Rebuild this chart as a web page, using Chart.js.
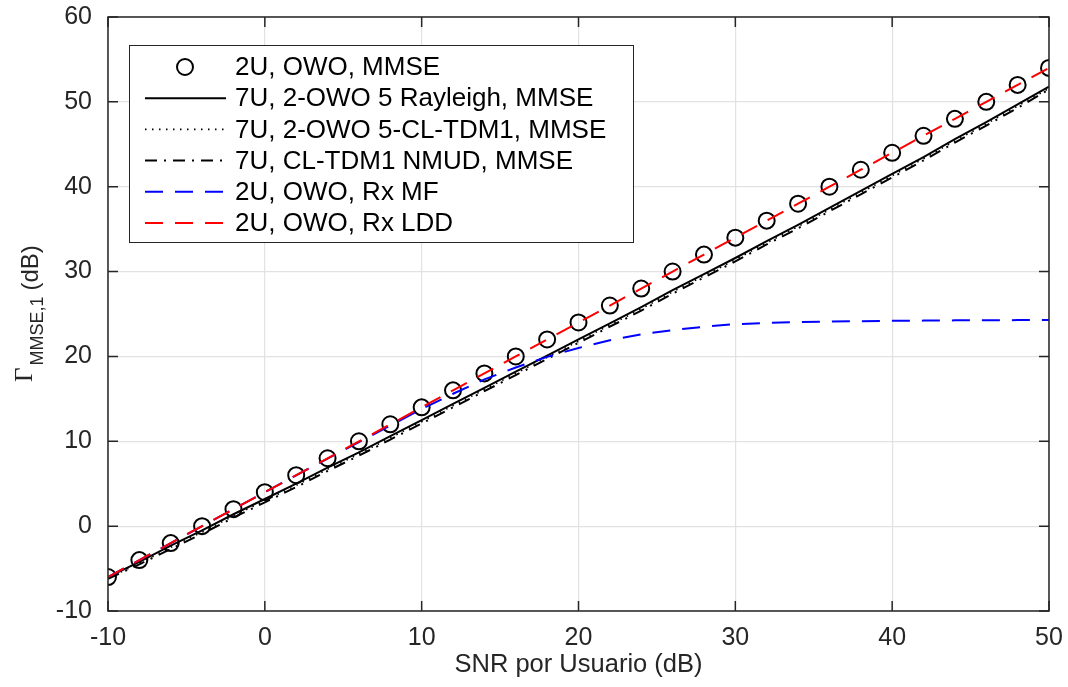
<!DOCTYPE html>
<html>
<head>
<meta charset="utf-8">
<script src="https://cdn.jsdelivr.net/npm/chart.js@4.4.1/dist/chart.umd.min.js"></script>
<style>
  html, body { margin: 0; padding: 0; background: #fff; }
  #wrap { width: 1068px; height: 687px; position: relative; }
</style>
</head>
<body>
<div id="wrap"><canvas id="gainChart"></canvas></div>
<script>
// SNR por usuario (dB)
var snr = [-10, -8, -6, -4, -2, 0, 2, 4, 6, 8, 10, 12, 14, 16, 18, 20, 22, 24, 26, 28, 30, 32, 34, 36, 38, 40, 42, 44, 46, 48, 50];

// 2U, OWO, MMSE (marcadores)
var owoMmse = [-6, -4, -2, 0, 2, 4, 6, 8, 10, 12, 14, 16, 18, 20, 22, 24, 26, 28, 30, 32, 34, 36, 38, 40, 42, 44, 46, 48, 50, 52, 54];
// 7U, 2-OWO 5 Rayleigh, MMSE
var rayleighMmse = [-6.0, -4.2, -2.3, -0.5, 1.4, 3.2, 5.0, 6.9, 8.7, 10.6, 12.5, 14.4, 16.3, 18.2, 20.1, 22.0, 23.9, 25.8, 27.8, 29.7, 31.6, 33.6, 35.5, 37.5, 39.5, 41.5, 43.5, 45.6, 47.6, 49.7, 51.8];
// 7U, 2-OWO 5-CL-TDM1, MMSE
var tdm1Mmse = [-6.1, -4.4, -2.5, -0.7, 1.2, 3.0, 4.8, 6.7, 8.5, 10.4, 12.3, 14.2, 16.1, 18.0, 19.9, 21.8, 23.7, 25.6, 27.6, 29.5, 31.4, 33.4, 35.3, 37.3, 39.3, 41.3, 43.3, 45.4, 47.4, 49.5, 51.6];
// 7U, CL-TDM1 NMUD, MMSE
var nmudMmse = [-6.2, -4.5, -2.7, -0.9, 1.0, 2.8, 4.6, 6.5, 8.3, 10.2, 12.1, 14.0, 15.9, 17.8, 19.7, 21.6, 23.5, 25.4, 27.4, 29.3, 31.2, 33.2, 35.1, 37.1, 39.1, 41.1, 43.1, 45.2, 47.2, 49.3, 51.45];
// 2U, OWO, Rx MF
var owoMf = [-6, -4, -2, 0, 2, 4, 5.99, 7.97, 9.9, 11.85, 13.8, 15.6, 17.3, 18.7, 19.95, 21.0, 21.9, 22.6, 23.1, 23.5, 23.8, 23.95, 24.05, 24.1, 24.15, 24.2, 24.22, 24.25, 24.27, 24.28, 24.3];
// 2U, OWO, Rx LDD
var owoLdd = [-6, -4, -2, 0, 2, 4, 6, 8, 10, 12, 14, 16, 18, 20, 22, 24, 26, 28, 30, 32, 34, 36, 38, 40, 42, 44, 46, 48, 50, 52, 54];

var seriesNames = [
  '2U, OWO, MMSE',
  '7U, 2-OWO 5 Rayleigh, MMSE',
  '7U, 2-OWO 5-CL-TDM1, MMSE',
  '7U, CL-TDM1 NMUD, MMSE',
  '2U, OWO, Rx MF',
  '2U, OWO, Rx LDD'
];

var xTicks = [-10, 0, 10, 20, 30, 40, 50];
var yTicks = [-10, 0, 10, 20, 30, 40, 50, 60];

var SANS = '"Liberation Sans", Arial, Helvetica, sans-serif';
var SERIF = '"Liberation Serif", "Times New Roman", serif';
var AXIS = '#262626';

function pts(ys) {
  return snr.map(function(x, i) { return { x: x, y: ys[i] }; });
}

// box, inner ticks, axis titles and legend, MATLAB style
var matlabLook = {
  id: 'matlabLook',
  afterDatasetsDraw: function(chart) {
    var ctx = chart.ctx, a = chart.chartArea;
    var xs = chart.scales.x, ys = chart.scales.y;
    ctx.save();
    ctx.strokeStyle = AXIS;
    ctx.lineWidth = 1.5;
    ctx.beginPath();
    xTicks.forEach(function(v) {
      var px = xs.getPixelForValue(v);
      ctx.moveTo(px, a.bottom); ctx.lineTo(px, a.bottom - 10);
      ctx.moveTo(px, a.top); ctx.lineTo(px, a.top + 10);
    });
    yTicks.forEach(function(v) {
      var py = ys.getPixelForValue(v);
      ctx.moveTo(a.left, py); ctx.lineTo(a.left + 10, py);
      ctx.moveTo(a.right, py); ctx.lineTo(a.right - 10, py);
    });
    ctx.stroke();
    ctx.strokeRect(a.left, a.top, a.right - a.left, a.bottom - a.top);

    // x title
    ctx.fillStyle = AXIS;
    ctx.font = '25.5px ' + SANS;
    ctx.textAlign = 'center';
    ctx.textBaseline = 'middle';
    ctx.fillText('SNR por Usuario (dB)', (a.left + a.right) / 2, 665);

    // y title: Γ_{MMSE,1} (dB), rotated
    ctx.save();
    ctx.translate(32, 382);
    ctx.rotate(-Math.PI / 2);
    ctx.textAlign = 'left';
    ctx.textBaseline = 'alphabetic';
    ctx.font = '25px ' + SERIF;
    ctx.fillText('\u0393', 0, 0);
    var x1 = ctx.measureText('\u0393').width + 2;
    ctx.font = '18px ' + SANS;
    ctx.fillText('MMSE,1', x1, 11);
    var x2 = x1 + ctx.measureText('MMSE,1').width + 6;
    ctx.font = '24px ' + SANS;
    ctx.fillText('(dB)', x2, 6);
    ctx.restore();

    // legend
    var lx = 129, ly = 45, lw = 504, lh = 197;
    ctx.fillStyle = '#fff';
    ctx.fillRect(lx, ly, lw, lh);
    ctx.lineWidth = 1;
    ctx.strokeStyle = AXIS;
    ctx.strokeRect(lx + 0.5, ly + 0.5, lw, lh);
    chart.data.datasets.forEach(function(ds, i) {
      var ry = 67 + i * 31.2;
      ctx.save();
      if (ds.showLine === false) {
        ctx.beginPath();
        ctx.lineWidth = ds.pointBorderWidth;
        ctx.strokeStyle = ds.pointBorderColor;
        ctx.arc(185, ry, ds.pointRadius, 0, Math.PI * 2);
        ctx.stroke();
      } else {
        ctx.beginPath();
        ctx.lineWidth = ds.borderWidth;
        ctx.strokeStyle = ds.borderColor;
        ctx.setLineDash(ds.borderDash || []);
        ctx.moveTo(145, ry);
        ctx.lineTo(226, ry);
        ctx.stroke();
      }
      ctx.restore();
      ctx.fillStyle = '#000';
      ctx.font = '26px ' + SANS;
      ctx.textAlign = 'left';
      ctx.textBaseline = 'middle';
      ctx.fillText(seriesNames[i], 235, ry + 1);
    });
    ctx.restore();
  }
};

var ctx = document.getElementById('gainChart').getContext('2d');
var gainChart = new Chart(ctx, {
  type: 'line',
  data: {
    datasets: [{
      label: seriesNames[0],
      data: pts(owoMmse),
      showLine: false,
      pointStyle: 'circle',
      pointRadius: 8,
      pointBorderWidth: 2,
      pointBorderColor: '#000',
      pointBackgroundColor: 'rgba(0,0,0,0)',
      order: 5
    }, {
      label: seriesNames[1],
      data: pts(rayleighMmse),
      borderColor: '#000',
      borderWidth: 2,
      pointRadius: 0,
      order: 4
    }, {
      label: seriesNames[2],
      data: pts(tdm1Mmse),
      borderColor: '#000',
      borderWidth: 1.6,
      borderDash: [1.5, 5.5],
      pointRadius: 0,
      order: 3
    }, {
      label: seriesNames[3],
      data: pts(nmudMmse),
      borderColor: '#000',
      borderWidth: 2,
      borderDash: [12, 7, 2, 7],
      pointRadius: 0,
      order: 2
    }, {
      label: seriesNames[4],
      data: pts(owoMf),
      borderColor: '#0000ff',
      borderWidth: 2,
      borderDash: [18, 12],
      pointRadius: 0,
      order: 1
    }, {
      label: seriesNames[5],
      data: pts(owoLdd),
      borderColor: '#ff0000',
      borderWidth: 2,
      borderDash: [18, 12],
      pointRadius: 0,
      order: 0
    }]
  },
  options: {
    responsive: true,
    maintainAspectRatio: false,
    animation: false,
    events: [],
    layout: { padding: { top: 17, right: 19, left: 0, bottom: 0 } },
    scales: {
      x: {
        type: 'linear',
        min: -10,
        max: 50,
        afterBuildTicks: function(s) { s.ticks = xTicks.map(function(v) { return { value: v }; }); },
        afterFit: function(s) { s.height = 76; s.paddingLeft = 0; s.paddingRight = 0; },
        grid: { color: '#e2e2e2', lineWidth: 1.2, drawTicks: false },
        border: { display: false },
        ticks: { font: { family: SANS, size: 25 }, color: AXIS, padding: 12, maxRotation: 0 }
      },
      y: {
        type: 'linear',
        min: -10,
        max: 60,
        afterBuildTicks: function(s) { s.ticks = yTicks.map(function(v) { return { value: v }; }); },
        afterFit: function(s) { s.width = 108; s.paddingTop = 0; s.paddingBottom = 0; },
        grid: { color: '#e2e2e2', lineWidth: 1.2, drawTicks: false },
        border: { display: false },
        ticks: { font: { family: SANS, size: 25 }, color: AXIS, padding: 16 }
      }
    },
    plugins: {
      legend: { display: false },
      tooltip: { enabled: false }
    }
  },
  plugins: [matlabLook]
});
</script>
</body>
</html>
